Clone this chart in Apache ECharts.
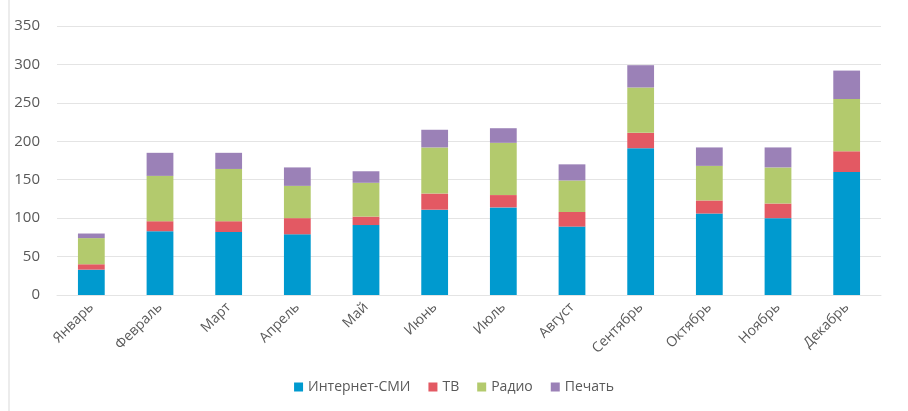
<!DOCTYPE html>
<html>
<head>
<meta charset="utf-8">
<script src="https://cdn.jsdelivr.net/npm/echarts@6/dist/echarts.min.js"></script>
<style>
  html, body { margin: 0; padding: 0; background: #fff; }
  #chart { width: 908px; height: 411px; }
</style>
</head>
<body>
<div id="chart"></div>
<script>
// месяцы
const months = ['Январь', 'Февраль', 'Март', 'Апрель', 'Май', 'Июнь', 'Июль', 'Август', 'Сентябрь', 'Октябрь', 'Ноябрь', 'Декабрь']
const internet = [33, 83, 82, 79, 91, 111, 114, 89, 191, 106, 100, 160]
const tv = [7, 13, 14, 21, 11, 21, 16, 19, 20, 17, 19, 27]
const radio = [34, 59, 68, 42, 44, 60, 68, 41, 59, 45, 47, 68]
const print = [6, 30, 21, 24, 15, 23, 19, 21, 29, 24, 26, 37]
const yTicks = [0, 50, 100, 150, 200, 250, 300, 350]

const names = ['Интернет-СМИ', 'ТВ', 'Радио', 'Печать']
const colors = ['#009ACF', '#E35963', '#B3CA6D', '#9B81B7']
const values = [internet, tv, radio, print]

let chart = echarts.init(document.getElementById('chart'))

const series = names.map((n, i) => ({
  name: n,
  type: 'bar',
  stack: 'all',
  barWidth: '39%',
  itemStyle: { color: colors[i] },
  data: values[i],
}))

chart.setOption({
  animation: false,
  textStyle: { fontFamily: 'Open Sans', color: '#595959' },
  grid: { left: 57, right: 27, top: 26, bottom: 116, containLabel: false },
  legend: {
    bottom: 12,
    left: 'center',
    itemWidth: 9,
    itemHeight: 9,
    itemGap: 18,
    icon: 'rect',
    textStyle: { fontSize: 14, color: '#595959', fontFamily: 'Open Sans' },
    data: names,
  },
  xAxis: {
    type: 'category',
    data: months,
    axisLine: { lineStyle: { color: '#e4e4e4' } },
    axisTick: { show: false },
    axisLabel: { rotate: 45, fontSize: 14, color: '#595959', margin: 10 },
  },
  yAxis: {
    type: 'value',
    min: yTicks[0],
    max: yTicks[yTicks.length - 1],
    interval: 50,
    axisLine: { show: false },
    axisTick: { show: false },
    axisLabel: { fontSize: 15, color: '#595959', margin: 17 },
    splitLine: { lineStyle: { color: '#e4e4e4' } },
  },
  graphic: [
    {
      type: 'line',
      shape: { x1: 9, y1: 0, x2: 9, y2: 411 },
      style: { stroke: '#d9d9d9', lineWidth: 1 },
    },
  ],
  series: series,
})
</script>
</body>
</html>
